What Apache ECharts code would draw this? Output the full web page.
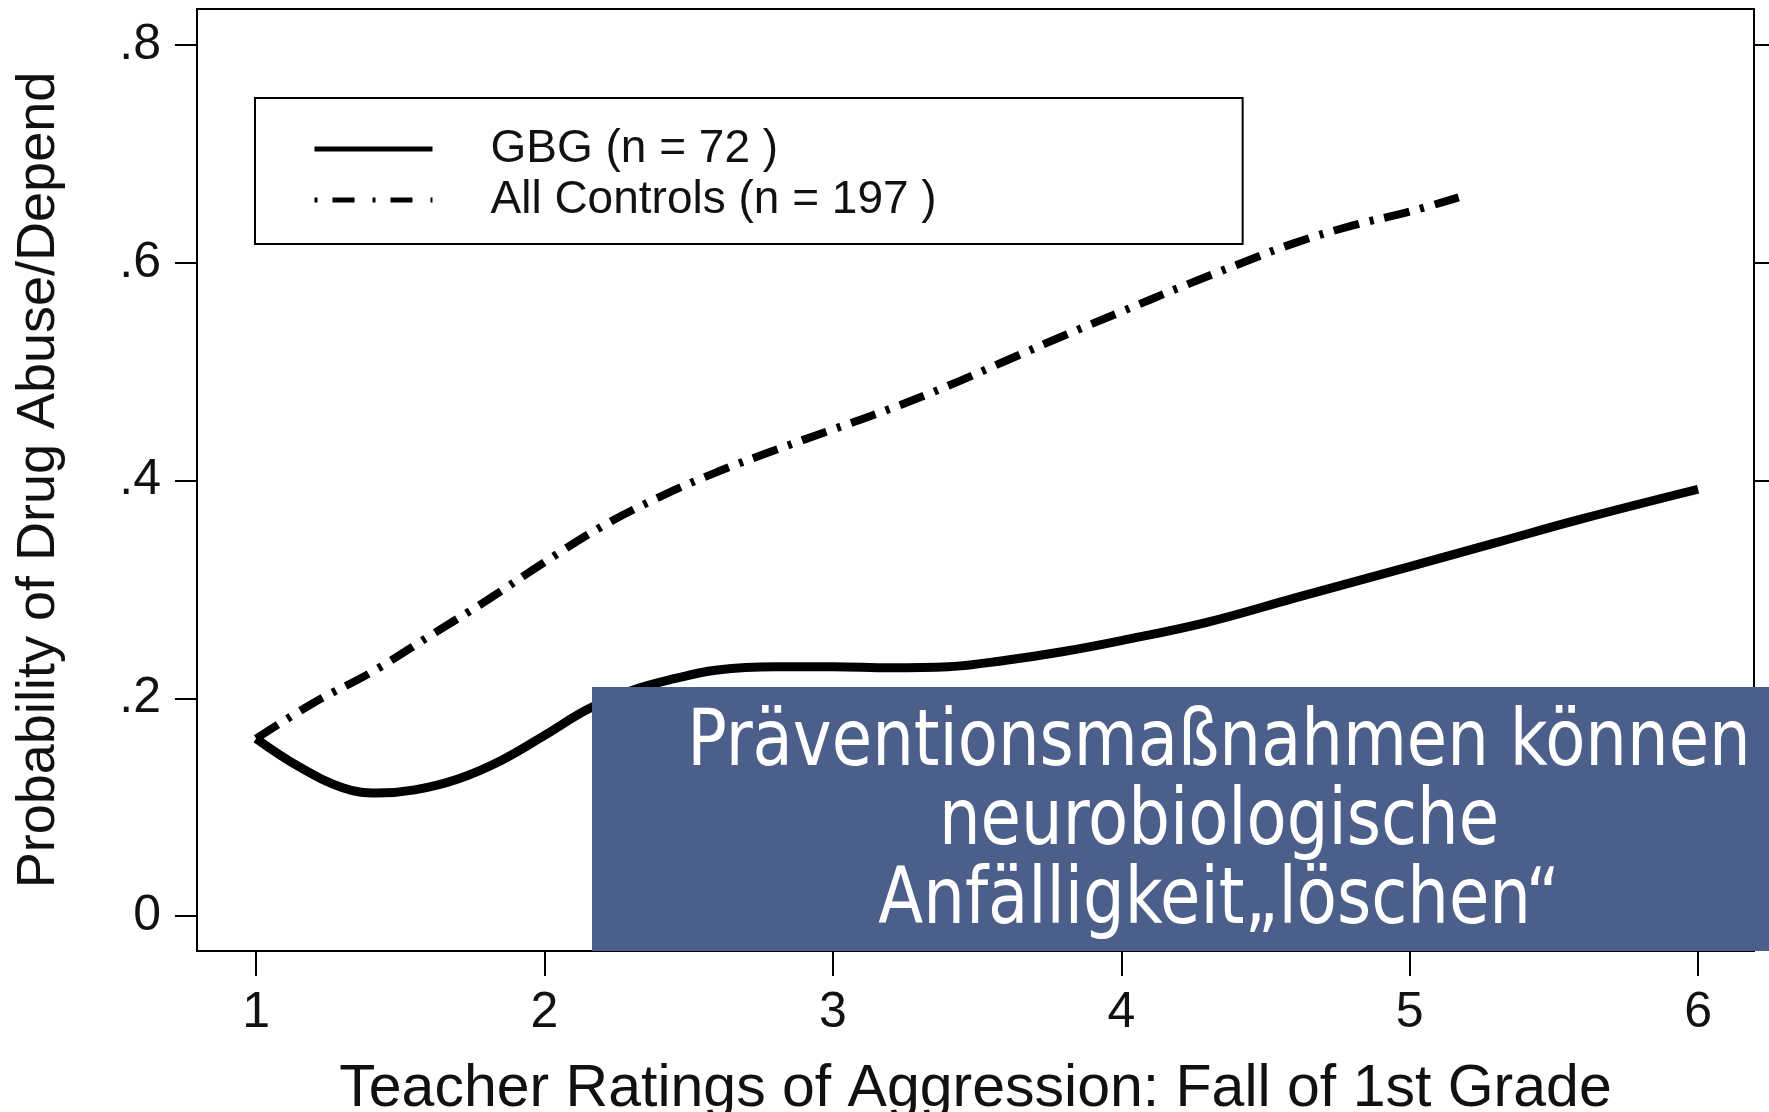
<!DOCTYPE html>
<html>
<head>
<meta charset="utf-8">
<script src="https://cdn.jsdelivr.net/npm/echarts@6/dist/echarts.min.js"></script>
<style>
	html, body { margin: 0; padding: 0; background: #fff; }
	#chart { width: 1769px; height: 1112px; }
</style>
</head>
<body>
<div id="chart"></div>
<script>
// values
var gbgX = [1.0, 1.15, 1.3, 1.42, 1.55, 1.7, 1.85, 2.0, 2.15, 2.3, 2.45, 2.6, 2.8, 3.0, 3.2, 3.4, 3.6, 3.8, 4.0, 4.3, 4.6, 5.0, 5.3, 5.6, 6.0];
var gbgY = [0.163, 0.137, 0.118, 0.113, 0.116, 0.126, 0.143, 0.166, 0.19, 0.207, 0.218, 0.226, 0.229, 0.229, 0.228, 0.229, 0.235, 0.243, 0.253, 0.27, 0.292, 0.321, 0.343, 0.365, 0.392];

var ctrlX = [1.0, 1.2, 1.4, 1.6, 1.8, 2.0, 2.2, 2.4, 2.6, 2.8, 3.0, 3.2, 3.4, 3.6, 3.8, 4.0, 4.2, 4.4, 4.6, 4.8, 5.0, 5.17];
var ctrlY = [0.163, 0.196, 0.224, 0.257, 0.29, 0.325, 0.358, 0.385, 0.408, 0.428, 0.447, 0.466, 0.487, 0.51, 0.533, 0.555, 0.577, 0.598, 0.618, 0.634, 0.647, 0.66];

var xTicks = [1, 2, 3, 4, 5, 6];
var yTicks = [0, 0.2, 0.4, 0.6, 0.8];
var yTickLabels = ['0', '.2', '.4', '.6', '.8'];

var seriesNames = ['GBG (n = 72 )', 'All Controls (n = 197 )'];
var note = 'Präventionsmaßnahmen können\nneurobiologische\nAnfälligkeit\u201elöschen\u201c';

function pairs(xs, ys) {
	var out = [];
	for (var i = 0; i < xs.length; i++) {
		out.push([xs[i], ys[i]]);
	}
	return out;
}

var font = '"Liberation Sans", Arial, Helvetica, sans-serif';
var ctrlDash = [26, 11, 4, 11];

var myChart = echarts.init(document.getElementById('chart'));

var option = {
	backgroundColor: '#fff',
	animation: false,
	color: ['#000', '#000'],
	grid: {
		left: 197,
		right: 15,
		top: 9,
		bottom: 161,
		outerBoundsMode: 'none',
		containLabel: false,
		show: true,
		borderColor: '#000',
		borderWidth: 2,
		backgroundColor: 'transparent'
	},
	legend: {
		left: 255,
		top: 98,
		orient: 'vertical',
		itemWidth: 118,
		itemHeight: 14,
		itemGap: 5,
		padding: [28, 306, 21, 57],
		borderColor: '#000',
		borderWidth: 2,
		borderRadius: 0,
		backgroundColor: '#fff',
		itemStyle: { opacity: 0 },
		textStyle: {
			fontFamily: font,
			fontSize: 46,
			color: '#111',
			lineHeight: 46,
			padding: [0, 0, 0, 53]
		},
		data: [
			{ name: seriesNames[0], lineStyle: { width: 5, type: 'solid', color: '#000' } },
			{ name: seriesNames[1], lineStyle: { width: 5, type: [3, 15, 22, 18], color: '#000', cap: 'butt' } }
		]
	},
	xAxis: {
		type: 'value',
		min: 0.795,
		max: 6.194,
		name: 'Teacher Ratings of Aggression: Fall of 1st Grade',
		nameLocation: 'middle',
		nameGap: 109,
		nameTextStyle: { fontFamily: font, fontSize: 59, color: '#111' },
		axisLine: { show: true, onZero: false, lineStyle: { color: '#000', width: 2 } },
		axisTick: { show: true, length: 25, customValues: xTicks, lineStyle: { color: '#000', width: 2 } },
		axisLabel: {
			customValues: xTicks,
			margin: 37,
			fontFamily: font,
			fontSize: 50,
			color: '#111'
		},
		splitLine: { show: false }
	},
	yAxis: [{
		type: 'value',
		min: -0.032,
		max: 0.833,
		name: 'Probability of Drug Abuse/Depend',
		nameLocation: 'middle',
		nameGap: 131,
		nameTextStyle: { fontFamily: font, fontSize: 54, color: '#111' },
		axisLine: { show: true, lineStyle: { color: '#000', width: 2 } },
		axisTick: { show: true, length: 22, customValues: yTicks, lineStyle: { color: '#000', width: 2 } },
		axisLabel: {
			customValues: yTicks,
			margin: 36,
			fontFamily: font,
			fontSize: 50,
			color: '#111',
			formatter: function(v) {
				var idx = yTicks.indexOf(Math.round(v * 10) / 10);
				return idx >= 0 ? yTickLabels[idx] : '';
			}
		},
		splitLine: { show: false }
	}, {
		type: 'value',
		position: 'right',
		min: -0.032,
		max: 0.833,
		axisLine: { show: true, lineStyle: { color: '#000', width: 2 } },
		axisTick: { show: true, length: 22, customValues: yTicks, lineStyle: { color: '#000', width: 2 } },
		axisLabel: { show: false },
		splitLine: { show: false }
	}],
	series: [{
		name: seriesNames[1],
		type: 'line',
		smooth: 0.4,
		symbol: 'none',
		data: pairs(ctrlX, ctrlY),
		itemStyle: { color: '#000' },
		lineStyle: { color: '#000', width: 8, type: ctrlDash, cap: 'butt' },
		z: 3
	}, {
		name: seriesNames[0],
		type: 'line',
		smooth: 0.4,
		symbol: 'none',
		data: pairs(gbgX, gbgY),
		itemStyle: { color: '#000' },
		lineStyle: { color: '#000', width: 9, type: 'solid' },
		z: 4
	}],
	graphic: [{
		type: 'rect',
		z: 100,
		shape: { x: 592, y: 687, width: 1177, height: 264 },
		style: { fill: '#4c5f8a' }
	}, {
		type: 'text',
		z: 101,
		x: 1219,
		y: 824,
		scaleY: 1.07,
		style: {
			text: note,
			fill: '#fff',
			font: '73px "DejaVu Sans Condensed", "DejaVu Sans", sans-serif',
			lineHeight: 74,
			align: 'center',
			verticalAlign: 'middle'
		}
	}]
};

myChart.setOption(option);
</script>
</body>
</html>
